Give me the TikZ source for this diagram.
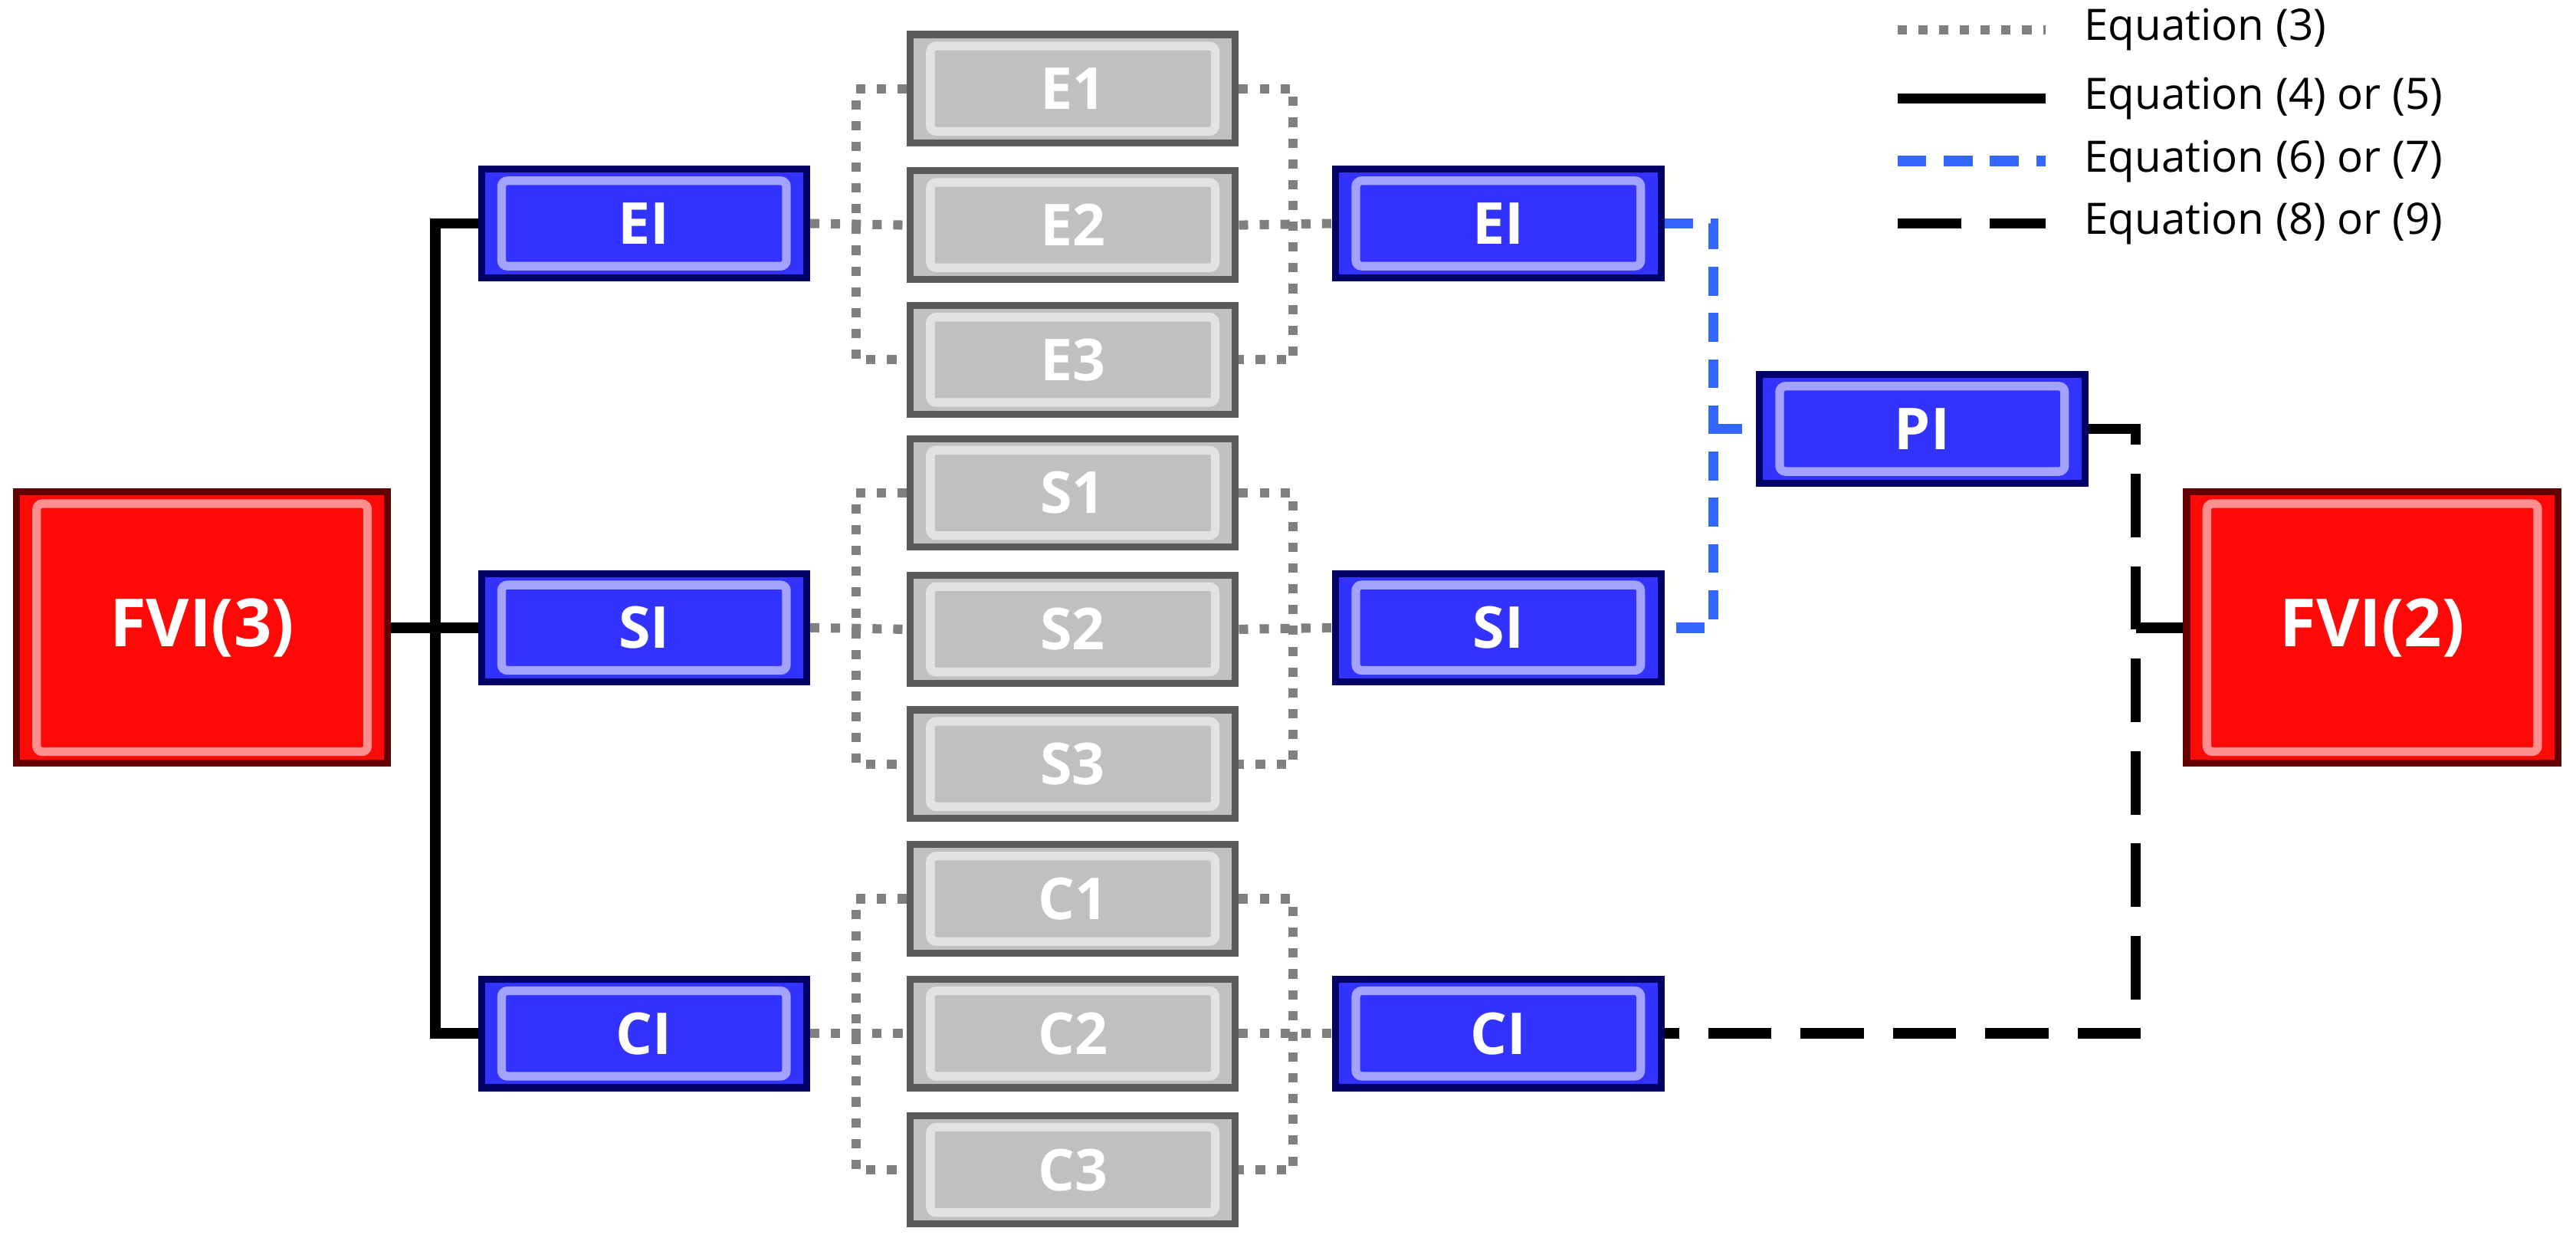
\documentclass[tikz,border=0pt]{standalone}
\usepackage{fontspec}
\setmainfont{Open Sans}
\begin{document}
\begin{tikzpicture}[x=0.1mm,y=-0.1mm,
 bx/.style={draw=#1!40!black,line width=1.2pt,minimum width=19.8mm,minimum height=6.6mm,inner sep=0,
   text=white,font=\fontsize{10}{12}\selectfont\bfseries,
   path picture={\draw[white,opacity=.55,line width=1.5pt,rounded corners=1pt]
     ([shift={(3.5pt,-2pt)}]path picture bounding box.north west) rectangle
     ([shift={(-3.5pt,2pt)}]path picture bounding box.south east);}},
 bl/.style={bx=blue,fill={rgb,255:red,51;green,51;blue,255}},
 gr/.style={bx=gray,fill={rgb,255:red,192;green,192;blue,192},draw={rgb,255:red,90;green,90;blue,90}},
 rd/.style={bx=red,fill={rgb,255:red,255;green,8;blue,8},minimum width=22.6mm,minimum height=16.5mm,font=\fontsize{11.5}{14}\selectfont\bfseries},
 dot/.style={gray,line width=1.6pt,dotted},
 sol/.style={black,line width=1.8pt},
 bdash/.style={color={rgb,255:red,51;green,102;blue,255},line width=1.8pt,dash pattern=on 5pt off 3pt},
 ldash/.style={black,line width=1.8pt,dash pattern=on 11pt off 5pt},
 lg/.style={anchor=west,font=\fontsize{7.5}{9}\selectfont,inner sep=0}]
\useasboundingbox (0,0) rectangle (1568,753);
\node[rd] (F3) at (123,382) {FVI(3)};
\node[rd] (F2) at (1444,382) {FVI(2)};
\foreach \n/\y in {E/136,S/382,C/629}{
 \node[bl] (L\n) at (392,\y) {\n I};
 \node[bl] (R\n) at (912,\y) {\n I};}
\node[bl] (PI) at (1170,261) {PI};
\foreach \n/\y in {E1/54,E2/137,E3/219,S1/300,S2/383,S3/465,C1/547,C2/629,C3/712}
 \node[gr] (\n) at (653,\y) {\n};
% left bus
\coordinate (b0) at (265,382);
\draw[sol] (F3.east) -- (b0);
\draw[sol] (LE.west) -| (b0) |- (LC.west);
\draw[sol] (b0) -- (LS.west);
% gray brackets
\foreach \n in {E,S,C}{
 \draw[dot] (L\n.east) -- (\n2.west);
 \draw[dot] (\n1.west) -- ++(-31,0) |- (\n3.west);
 \draw[dot] (\n2.east) -- (R\n.west);
 \draw[dot] (\n1.east) -- ++(33,0) |- (\n3.east);}
% blue
\coordinate (bb) at (1043,261);
\draw[bdash] (RE.east) -| (bb) |- (RS.east);
\draw[bdash] (bb) -- (PI.west);
% black long dash
\coordinate (kb) at (1300,382);
\draw[ldash] (PI.east) -| (kb) |- (RC.east);
\draw[sol] (kb) -- (F2.west);
% legend
\foreach \s/\y/\t in {dot/18/Equation (3),sol/60/Equation (4) or (5),bdash/98/Equation (6) or (7),ldash/136/Equation (8) or (9)}{
 \coordinate (la\y) at (1155,\y); \coordinate (lb\y) at (1245,\y);
 \draw[\s] (la\y) -- (lb\y);
 \node[lg] (lt\y) at (1268,\y) {\t};}
\end{tikzpicture}
\end{document}
